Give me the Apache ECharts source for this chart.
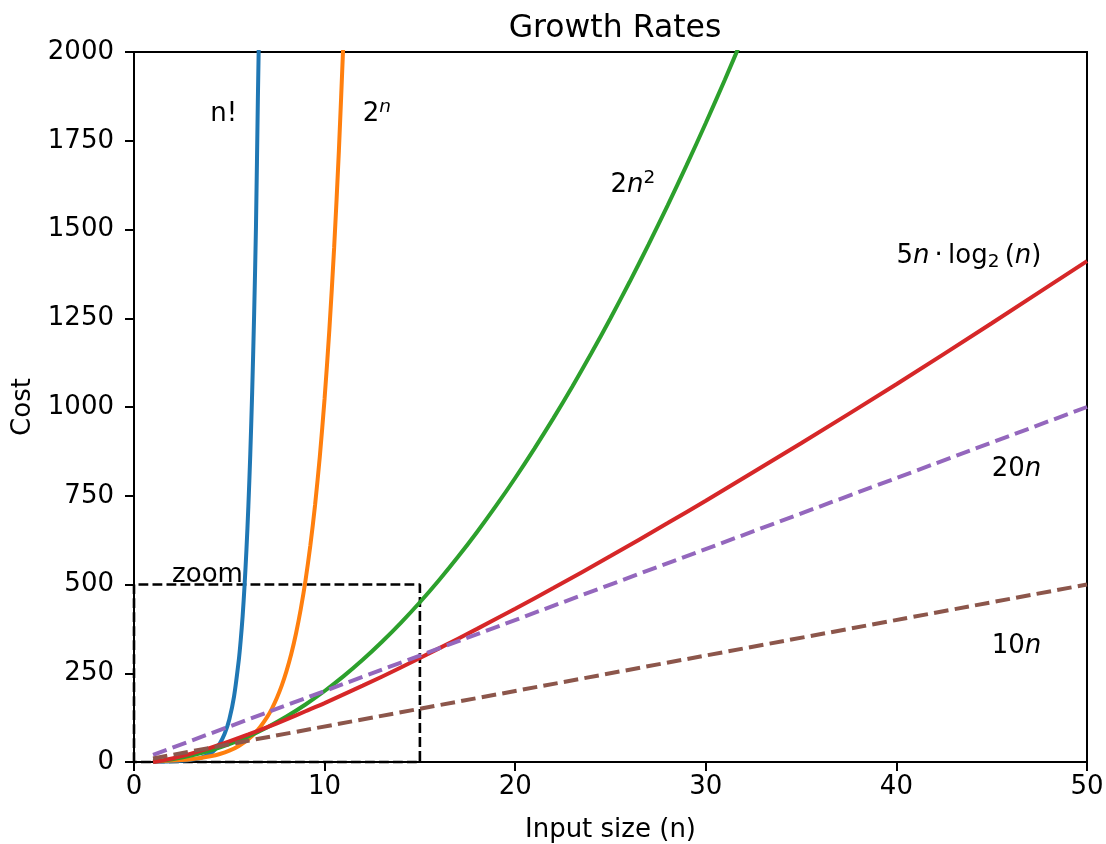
<!DOCTYPE html>
<html>
<head>
<meta charset="utf-8">
<script src="https://cdn.jsdelivr.net/npm/echarts@6/dist/echarts.min.js"></script>
<style>
html,body{margin:0;padding:0;background:#fff;}
#chart{width:1106px;height:844px;}
</style>
</head>
<body>
<div id="chart"></div>
<script>
// ---- data ----
const factN    = [1, 1.5, 2, 2.5, 3, 3.5, 4, 4.25, 4.5, 4.75, 5, 5.25, 5.5, 5.6, 5.7, 5.8, 5.9, 6, 6.1, 6.2, 6.3, 6.4, 6.5, 6.6, 6.7];
const factCost = [1, 1.33, 2, 3.32, 6, 11.6, 24, 35.2, 52.3, 78.8, 120, 185, 288, 344, 411, 497, 598, 720, 866, 1042, 1255, 1510, 1871, 2200, 2650];

const expN    = [1, 1.5, 2, 2.5, 3, 3.5, 4, 4.5, 5, 5.5, 6, 6.5, 7, 7.25, 7.5, 7.75, 8, 8.25, 8.5, 8.75, 9, 9.25, 9.5, 9.75, 10, 10.25, 10.5, 10.75, 11];
const expCost = [2, 2.83, 4, 5.66, 8, 11.3, 16, 22.6, 32, 45.3, 64, 90.5, 128, 152, 181, 215, 256, 304, 362, 431, 512, 609, 724, 861, 1024, 1218, 1448, 1722, 2048];

const quadN    = [1, 2, 3, 4, 5, 6, 7, 8, 9, 10, 11, 12, 13, 14, 15, 16, 17, 18, 19, 20, 21, 22, 23, 24, 25, 26, 27, 28, 29, 30, 31, 32];
const quadCost = [2, 8, 18, 32, 50, 72, 98, 128, 162, 200, 242, 288, 338, 392, 450, 512, 578, 648, 722, 800, 882, 968, 1058, 1152, 1250, 1352, 1458, 1568, 1682, 1800, 1922, 2048];

const nlogN    = [1, 1.5, 2, 2.5, 3, 4, 5, 6, 7, 8, 9, 10, 12, 14, 16, 18, 20, 22, 25, 28, 30, 35, 40, 45, 50];
const nlogCost = [0, 4.4, 10, 16.5, 23.8, 40, 58.0, 77.5, 98.3, 120, 143, 166, 215, 266, 320, 375, 432, 490, 580, 673, 736, 898, 1064, 1236, 1411];

const lin20N    = [1, 50];
const lin20Cost = [20, 1000];
const lin10N    = [1, 50];
const lin10Cost = [10, 500];

const zoomBoxX = [0, 0, 15, 15, 0];
const zoomBoxY = [0, 500, 500, 0, 0];

const labelX    = [4, 12, 25, 40, 45, 45, 2];
const labelY    = [1800, 1800, 1600, 1400, 800, 300, 500];
const labelText = [
  '{r|n!}',
  '{r|2}{sup|n}',
  '{r|2}{i|n}{sup2|2}',
  '{r|5}{i|n}{r|\u2009·\u2009log}{sub|2}{r|\u2009(}{i|n}{r|)}',
  '{r|20}{i|n}',
  '{r|10}{i|n}',
  '{r|zoom}'
];

const xTicks = [0, 10, 20, 30, 40, 50];
const yTicks = [0, 250, 500, 750, 1000, 1250, 1500, 1750, 2000];

// ---- helpers ----
const zip = (a, b) => a.map((v, i) => [v, b[i]]);
const FONT = 'DejaVu Sans';
const FS = 26;
const colors = ['#1f77b4', '#ff7f0e', '#2ca02c', '#d62728', '#9467bd', '#8c564b'];
const LW = 4;

function curve(data, color, dashed) {
  return {
    type: 'line', data: data, showSymbol: false, symbol: 'none',
    smooth: 0.25, clip: true, silent: true,
    lineStyle: { color: color, width: LW, type: dashed ? [14.6, 6.3] : 'solid', cap: 'butt' }
  };
}

const chart = echarts.init(document.getElementById('chart'), null, { renderer: 'canvas' });

const option = {
  animation: false,
  backgroundColor: '#fff',
  title: {
    text: 'Growth Rates', left: 610, top: 8, textAlign: 'center',
    textStyle: { fontFamily: FONT, fontSize: 31.5, fontWeight: 'normal', color: '#000' }
  },
  grid: {
    left: 134, right: 19, top: 52, bottom: 82, containLabel: false, outerBoundsMode: 'none',
    show: true, borderColor: '#000', borderWidth: 2, backgroundColor: 'transparent'
  },
  xAxis: {
    type: 'value', min: xTicks[0], max: xTicks[xTicks.length - 1], interval: xTicks[1] - xTicks[0],
    name: 'Input size (n)', nameLocation: 'middle', nameGap: 55,
    nameTextStyle: { fontFamily: FONT, fontSize: FS, color: '#000' },
    axisLine: { show: true, onZero: false, lineStyle: { color: '#000', width: 2 } },
    axisTick: { show: true, inside: false, length: 9, lineStyle: { color: '#000', width: 2 } },
    axisLabel: { fontFamily: FONT, fontSize: FS, color: '#000', margin: 12, formatter: v => String(v) },
    splitLine: { show: false }
  },
  yAxis: {
    type: 'value', min: yTicks[0], max: yTicks[yTicks.length - 1], interval: yTicks[1] - yTicks[0],
    name: 'Cost', nameLocation: 'middle', nameGap: 98, nameRotate: 90,
    nameTextStyle: { fontFamily: FONT, fontSize: FS, color: '#000' },
    axisLine: { show: true, onZero: false, lineStyle: { color: '#000', width: 2 } },
    axisTick: { show: true, inside: false, length: 9, lineStyle: { color: '#000', width: 2 } },
    axisLabel: { fontFamily: FONT, fontSize: FS, color: '#000', margin: 20, formatter: v => String(v) },
    splitLine: { show: false }
  },
  series: [
    {
      type: 'line', data: zip(zoomBoxX, zoomBoxY), showSymbol: false, symbol: 'none', clip: false, silent: true,
      lineStyle: { color: '#000', width: 2.6, type: [9.8, 4.2] }, z: 1
    },
    Object.assign(curve(zip(factN, factCost), colors[0], false), { z: 2 }),
    Object.assign(curve(zip(expN, expCost), colors[1], false), { z: 2 }),
    Object.assign(curve(zip(quadN, quadCost), colors[2], false), { z: 2 }),
    Object.assign(curve(zip(nlogN, nlogCost), colors[3], false), { z: 2 }),
    Object.assign(curve(zip(lin20N, lin20Cost), colors[4], true), { z: 2 }),
    Object.assign(curve(zip(lin10N, lin10Cost), colors[5], true), { z: 2 }),
    {
      type: 'scatter', symbolSize: 0, silent: true, z: 5,
      itemStyle: { opacity: 1 },
      data: labelX.map((x, i) => ({
        value: [x, labelY[i]],
        label: { formatter: labelText[i] }
      })),
      label: {
        show: true, position: 'right', distance: 0, align: 'left', verticalAlign: 'middle',
        offset: [0, -9], opacity: 1,
        color: '#000', fontFamily: FONT, fontSize: FS,
        rich: {
          r:    { fontFamily: FONT, fontSize: FS, color: '#000', lineHeight: 32, verticalAlign: 'middle' },
          i:    { fontFamily: FONT, fontSize: FS, fontStyle: 'italic', color: '#000', lineHeight: 32, verticalAlign: 'middle' },
          sup:  { fontFamily: FONT, fontSize: 18.5, fontStyle: 'italic', color: '#000', lineHeight: 10, verticalAlign: 'top' },
          sup2: { fontFamily: FONT, fontSize: 18.5, color: '#000', lineHeight: 10, verticalAlign: 'top' },
          sub:  { fontFamily: FONT, fontSize: 18.5, color: '#000', lineHeight: 19, verticalAlign: 'bottom' }
        }
      }
    }
  ]
};
chart.setOption(option);
</script>
</body>
</html>
